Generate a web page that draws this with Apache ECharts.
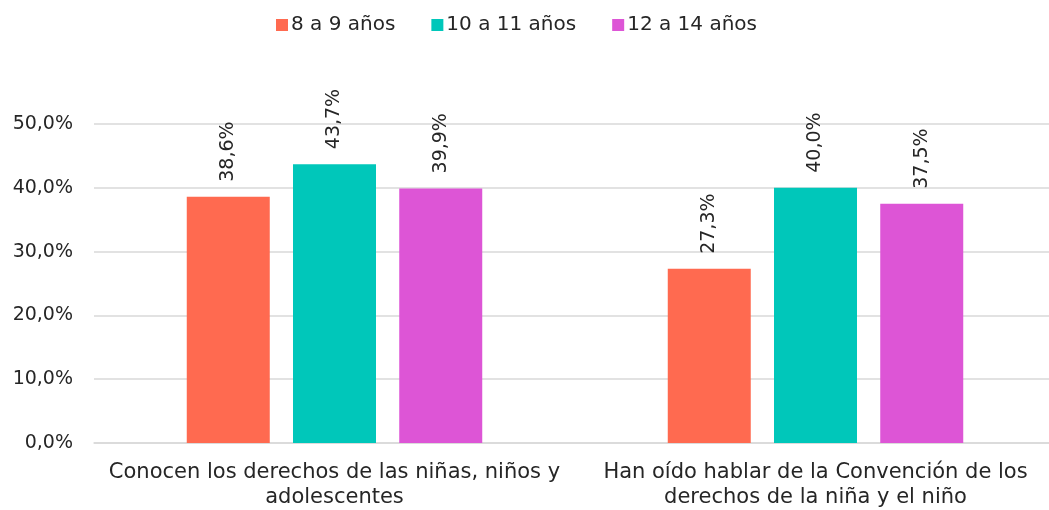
<!DOCTYPE html>
<html>
<head>
<meta charset="utf-8">
<script src="https://cdn.jsdelivr.net/npm/echarts@6/dist/echarts.min.js"></script>
<style>
  html, body { margin: 0; padding: 0; background: #fff; overflow: hidden; }
  #chart { width: 1056px; height: 510px; }
</style>
</head>
<body>
<div id="chart"></div>
<script>
// Porcentaje que conoce sus derechos, por grupo de edad
const categories = [
  'Conocen los derechos de las niñas, niños y\nadolescentes',
  'Han oído hablar de la Convención de los\nderechos de la niña y el niño'
];
const seriesNames = ['8 a 9 años', '10 a 11 años', '12 a 14 años'];
const age8to9 = [38.6, 27.3];
const age10to11 = [43.7, 40.0];
const age12to14 = [39.9, 37.5];
const yTicks = [0, 10, 20, 30, 40, 50];

const colors = ['#FF6A50', '#00C7BA', '#DD55D6'];
const FONT = 'DejaVu Sans';
const TEXT = '#262626';

const fmt = v => v.toFixed(1).replace('.', ',') + '%';

const makeSeries = (name, data, color) => ({
  name,
  type: 'bar',
  data,
  barWidth: 83,
  barGap: '28%',
  itemStyle: { color },
  label: {
    show: true,
    position: 'top',
    rotate: 90,
    align: 'left',
    verticalAlign: 'middle',
    distance: 15,
    color: TEXT,
    fontFamily: FONT,
    fontSize: 19,
    formatter: p => fmt(p.value)
  }
});

const chart = echarts.init(document.getElementById('chart'), null, { renderer: 'canvas' });
chart.setOption({
  animation: false,
  color: colors,
  textStyle: { fontFamily: FONT },
  legend: {
    top: 10,
    left: 271,
    data: seriesNames,
    icon: 'rect',
    itemWidth: 12,
    itemHeight: 12,
    itemGap: 36,
    textStyle: { color: TEXT, fontFamily: FONT, fontSize: 20, padding: [0, 0, 0, -2] }
  },
  grid: { left: 94, top: 124, right: 0, bottom: 66, containLabel: false },
  xAxis: {
    type: 'category',
    data: categories,
    axisLine: { lineStyle: { color: '#D9D9D9', width: 1.5 } },
    axisTick: { show: false },
    axisLabel: {
      color: TEXT,
      fontFamily: FONT,
      fontSize: 21,
      lineHeight: 25,
      margin: 17,
      interval: 0
    }
  },
  yAxis: {
    type: 'value',
    min: yTicks[0],
    max: yTicks[yTicks.length - 1],
    interval: 10,
    axisLine: { show: false },
    axisTick: { show: false },
    splitLine: { lineStyle: { color: '#D9D9D9', width: 1.5 } },
    axisLabel: {
      color: TEXT,
      fontFamily: FONT,
      fontSize: 19,
      margin: 21,
      formatter: v => fmt(v)
    }
  },
  series: [
    makeSeries(seriesNames[0], age8to9, colors[0]),
    makeSeries(seriesNames[1], age10to11, colors[1]),
    makeSeries(seriesNames[2], age12to14, colors[2])
  ]
});
</script>
</body>
</html>
